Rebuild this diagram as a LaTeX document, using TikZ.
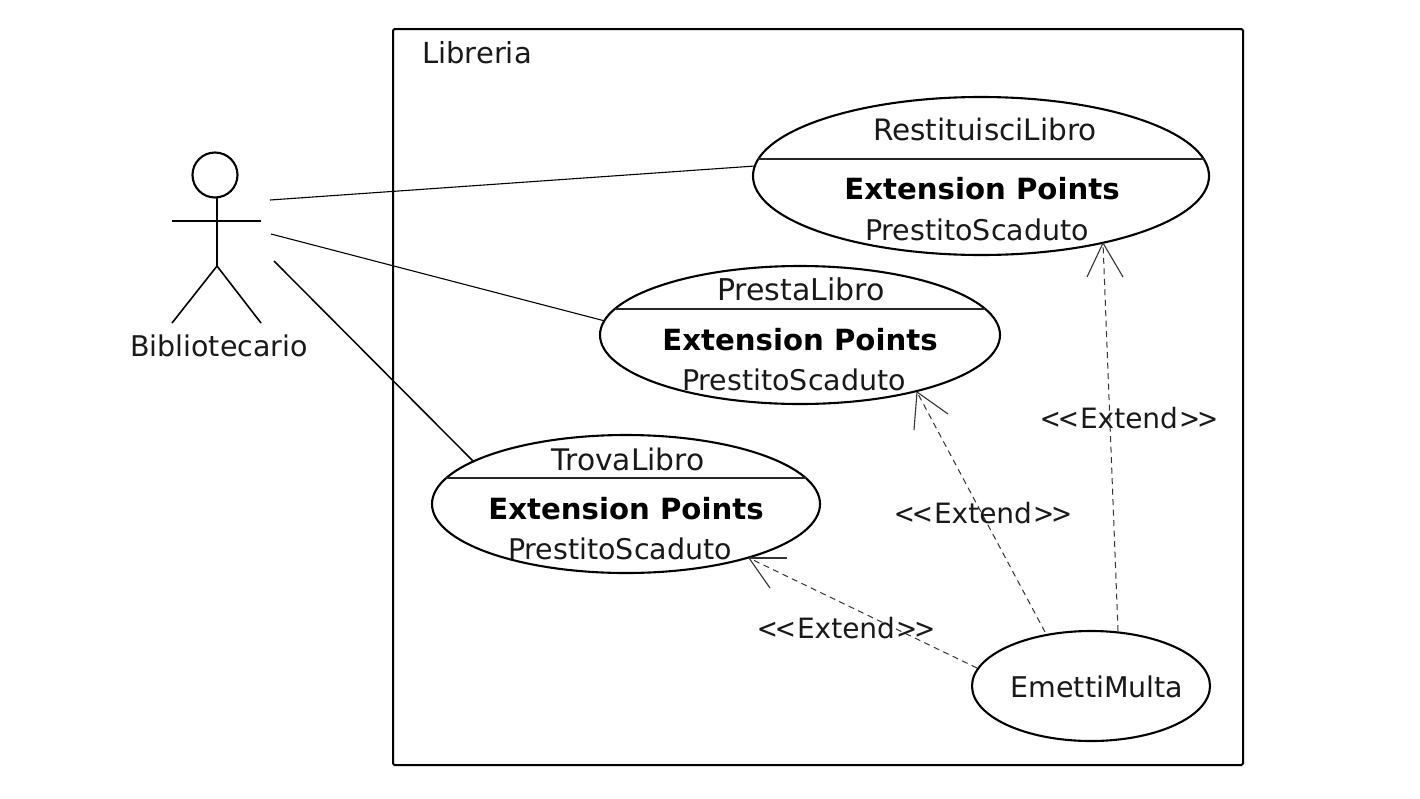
\documentclass[tikz,border=0pt]{standalone}
\usepackage{fontspec}
\usepackage{graphicx}
\setmainfont{DejaVu Sans}
\usetikzlibrary{shapes.geometric,calc}
\newcommand{\chevL}{\scalebox{.9}[1]{<}\kern-3pt\scalebox{.9}[1]{<}\kern1pt}
\newcommand{\chevR}{\kern1pt\scalebox{.9}[1]{>}\kern-3pt\scalebox{.9}[1]{>}}
\tikzset{
  x=1pt,y=-1pt,
  uc/.style={draw=black,ellipse,line width=2.1pt,inner sep=0pt,outer sep=0pt},
  lbl/.style={inner sep=0pt,outer sep=0pt,anchor=center,font=\fontsize{#1}{#1}\selectfont,text=black!90},
  lbl/.default=28.5,
  bld/.style={inner sep=0pt,outer sep=0pt,anchor=center,font=\fontsize{29.2}{30}\selectfont\bfseries,text=black},
  assoc/.style={draw=black,line width=1.1pt},
  sep/.style={draw=black!85,line width=1.3pt},
  ext/.style={draw=black!80,line width=1pt,dash pattern=on 6pt off 4.5pt},
  barb/.style={draw=black!80,line width=1.1pt},
  stick/.style={draw=black,line width=2.4pt},
  leg/.style={draw=black,line width=1.6pt},
}
\begin{document}
\begin{tikzpicture}
\useasboundingbox[fill=white] (0,0) rectangle (1420,798);
% system frame
\node[draw=black,line width=2pt,rounded corners=1.5pt,minimum width=850pt,minimum height=736pt,inner sep=0pt,outer sep=0pt] (frame) at (818,397) {};
\node[lbl=29] (libreria) at (477,53) {Libreria};
% actor
\node[draw=black,circle,line width=2.1pt,minimum size=45pt,inner sep=0pt,outer sep=0pt] (head) at (215,175) {};
\coordinate (hip) at (217,266);
\coordinate (handL) at (172,221);
\coordinate (handR) at (261,221);
\coordinate (footL) at (172,323);
\coordinate (footR) at (261,323);
\coordinate (neck) at (217,197);
\draw[stick] (neck) -- (hip);
\draw[stick] (handL) -- (handR);
\draw[leg] (footL) -- (hip) -- (footR);
\node[lbl] (actor) at (219,346) {Bibliotecario};
% use cases
\node[uc,minimum width=456pt,minimum height=158pt] (rest) at (981,176) {};
\node[uc,minimum width=400pt,minimum height=138pt] (pres) at (800,335) {};
\node[uc,minimum width=388pt,minimum height=138pt] (trov) at (626,504) {};
\node[uc,minimum width=238pt,minimum height=110pt] (emet) at (1091,686) {};
% compartments
\draw[sep] ($(rest.center)+(-223,-17)$) -- ($(rest.center)+(224,-17)$);
\draw[sep] ($(pres.center)+(-185,-26)$) -- ($(pres.center)+(185,-26)$);
\draw[sep] ($(trov.center)+(-180,-26)$) -- ($(trov.center)+(180,-26)$);
% texts
\node[lbl=29.5] (t1) at (985,129) {RestituisciLibro};
\node[bld] (t2) at (982,189) {Extension Points};
\node[lbl] (t3) at (977,230) {PrestitoScaduto};
\node[lbl=30] (p1) at (801,289) {PrestaLibro};
\node[bld] (p2) at (800,340) {Extension Points};
\node[lbl] (p3) at (794,380) {PrestitoScaduto};
\node[lbl=29.7] (q1) at (628,459) {TrovaLibro};
\node[bld] (q2) at (626,509) {Extension Points};
\node[lbl] (q3) at (620,549) {PrestitoScaduto};
\node[lbl] (e1) at (1097,687) {EmettiMulta};
% named connector ends on the ellipses
\coordinate (a1) at (270,200);
\coordinate (a2) at (271,234);
\coordinate (a3) at (274,261);
\coordinate (rIn) at ($(rest.center)+(-226,-10)$);
\coordinate (pIn) at ($(pres.center)+(-195,-14)$);
\coordinate (tIn) at ($(trov.center)+(-152,-42)$);
\coordinate (rTip) at ($(rest.center)+(122,67)$);
\coordinate (pTip) at ($(pres.center)+(117,57)$);
\coordinate (tTip) at ($(trov.center)+(123,54)$);
\coordinate (e1s) at ($(emet.center)+(27,-55)$);
\coordinate (e2s) at ($(emet.center)+(-46,-54)$);
\coordinate (e3s) at ($(emet.center)+(-114,-18)$);
% actor associations
\draw[assoc] (a1) -- (rIn);
\draw[assoc] (a2) -- (pIn);
\draw[assoc,line width=1.5pt] (a3) -- (tIn);
% extends
\draw[ext] (e1s) -- (rTip);
\draw[barb] (rTip) -- ++(-16,34);
\draw[barb] (rTip) -- ++(20,34);
\draw[ext] (e2s) -- (pTip);
\draw[barb] (pTip) -- ++(-3,38);
\draw[barb] (pTip) -- ++(31,22);
\draw[ext] (e3s) -- (tTip);
\draw[barb] (tTip) -- ++(21,30);
\draw[barb,line width=1.3pt] (tTip) -- ++(38,0);
% labels
\node[lbl=28] (x1) at (1129,418) {\chevL Extend\chevR};
\node[lbl=28] (x2) at (983,513) {\chevL Extend\chevR};
\node[lbl=28] (x3) at (846,628) {\chevL Extend\chevR};
\end{tikzpicture}
\end{document}
